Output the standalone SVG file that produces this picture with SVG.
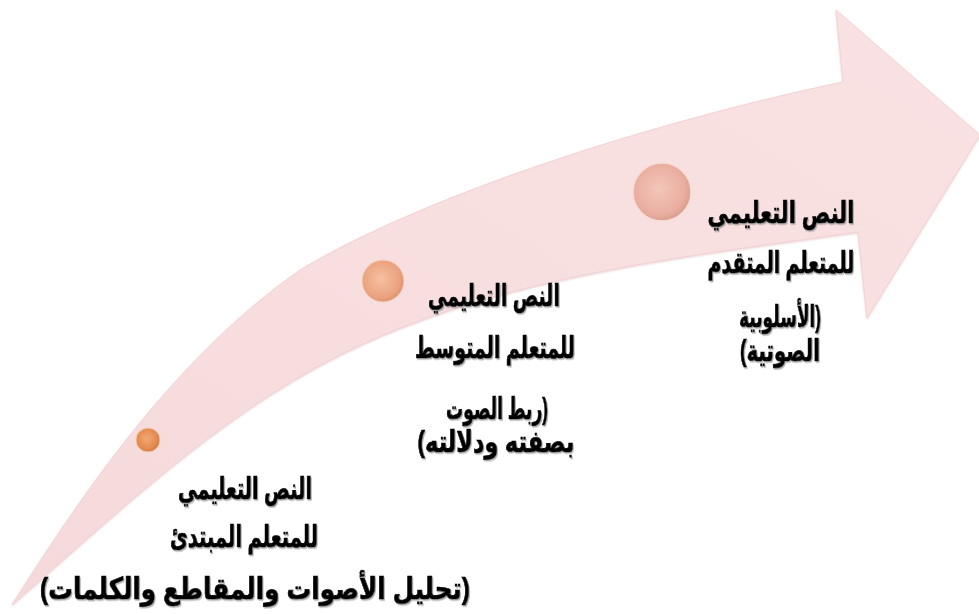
<svg xmlns="http://www.w3.org/2000/svg" width="979" height="614" viewBox="0 0 979 614">
  <style>
    .lbl { font-family: "Liberation Sans", "DejaVu Sans", Arial, sans-serif; font-weight: bold; font-size: 30px; fill: #000; stroke: #000; stroke-width: 0.7px; text-anchor: middle; direction: rtl; }
  </style>
  <defs>
    <linearGradient id="arrowFill" x1="0" y1="1" x2="1" y2="0">
      <stop offset="0" stop-color="#F6DADB"/>
      <stop offset="1" stop-color="#F9E2E3"/>
    </linearGradient>
    <radialGradient id="dot1" cx="0.45" cy="0.45" r="0.6">
      <stop offset="0" stop-color="#F2A874"/>
      <stop offset="0.7" stop-color="#E48A4E"/>
      <stop offset="1" stop-color="#C67440"/>
    </radialGradient>
    <radialGradient id="dot2" cx="0.45" cy="0.45" r="0.6">
      <stop offset="0" stop-color="#F6C0A2"/>
      <stop offset="0.75" stop-color="#EBA27E"/>
      <stop offset="1" stop-color="#D48F6D"/>
    </radialGradient>
    <radialGradient id="dot3" cx="0.45" cy="0.45" r="0.6">
      <stop offset="0" stop-color="#F3C6BA"/>
      <stop offset="0.75" stop-color="#E9AD9F"/>
      <stop offset="1" stop-color="#D0988B"/>
    </radialGradient>
    <filter id="shadow" x="-10%" y="-10%" width="120%" height="130%">
      <feDropShadow dx="1" dy="1.5" stdDeviation="0.6" flood-color="#8a8a8a" flood-opacity="0.7"/>
    </filter>
    <filter id="soft" x="-5%" y="-5%" width="110%" height="110%">
      <feDropShadow dx="0" dy="1" stdDeviation="1" flood-color="#d9b8ba" flood-opacity="0.6"/>
    </filter>
  </defs>

  <g id="arrow" filter="url(#soft)">
    <path d="M 12 605 C 90 481 180 354 300 270 C 429 193 657 121 843 82 L 836 10 L 980 135 L 867 318 L 858 232 C 683 257 498 276 340 355 C 218 416 115 515 12 605 Z" fill="url(#arrowFill)" stroke="#F3D2D4" stroke-width="1"/>
  </g>

  <g id="node1">
    <circle cx="148" cy="440" r="12" fill="url(#dot1)" stroke="#F2C9B0" stroke-width="1"/>
    <g filter="url(#shadow)">
      <text class="lbl" x="245" y="499" textLength="134" lengthAdjust="spacingAndGlyphs">النص التعليمي</text>
      <text class="lbl" x="244" y="547" textLength="148" lengthAdjust="spacingAndGlyphs">للمتعلم المبتدئ</text>
      <text class="lbl" x="255" y="599" textLength="430" lengthAdjust="spacingAndGlyphs">(تحليل الأصوات والمقاطع والكلمات)</text>
    </g>
  </g>

  <g id="node2">
    <circle cx="383" cy="281" r="21" fill="url(#dot2)" stroke="#F6D2C0" stroke-width="1"/>
    <g filter="url(#shadow)">
      <text class="lbl" x="494" y="306" textLength="132" lengthAdjust="spacingAndGlyphs">النص التعليمي</text>
      <text class="lbl" x="495" y="358" textLength="160" lengthAdjust="spacingAndGlyphs">للمتعلم المتوسط</text>
      <text class="lbl" x="497" y="419" textLength="102" lengthAdjust="spacingAndGlyphs">(ربط الصوت</text>
      <text class="lbl" x="496" y="452" textLength="157" lengthAdjust="spacingAndGlyphs">بصفته ودلالته)</text>
    </g>
  </g>

  <g id="node3">
    <circle cx="662" cy="192" r="29" fill="url(#dot3)" stroke="#F8DCD4" stroke-width="1.5"/>
    <g filter="url(#shadow)">
      <text class="lbl" x="781" y="223" textLength="147" lengthAdjust="spacingAndGlyphs">النص التعليمي</text>
      <text class="lbl" x="781" y="273" textLength="147" lengthAdjust="spacingAndGlyphs">للمتعلم المتقدم</text>
      <text class="lbl" x="780" y="327" textLength="82" lengthAdjust="spacingAndGlyphs">(الأسلوبية</text>
      <text class="lbl" x="780" y="361" textLength="80" lengthAdjust="spacingAndGlyphs">الصوتية)</text>
    </g>
  </g>
</svg>
